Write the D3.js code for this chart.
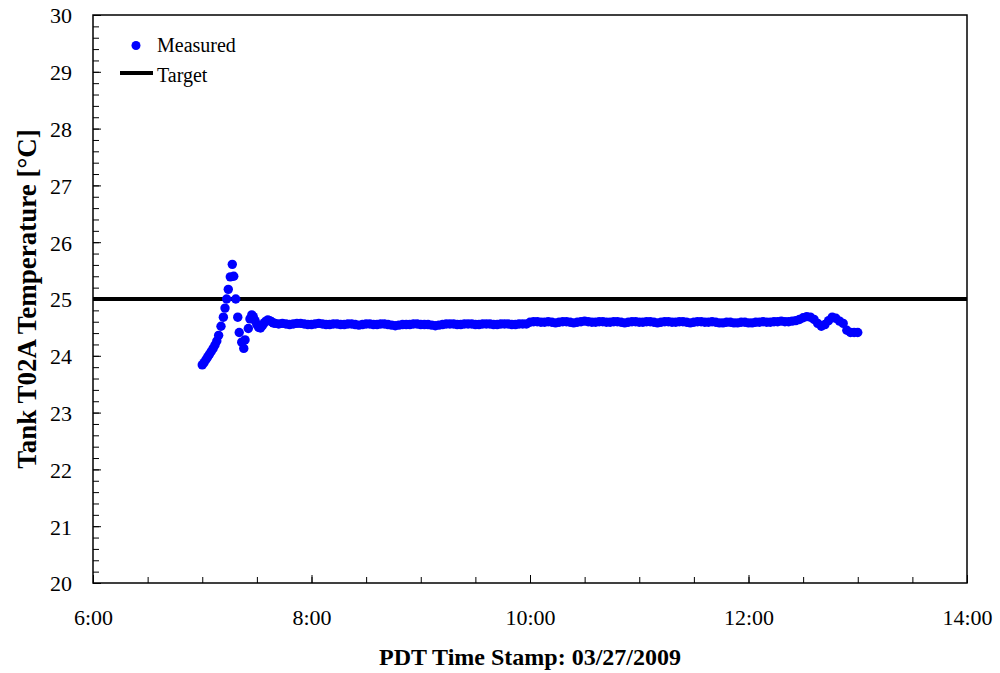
<!DOCTYPE html>
<html>
<head>
<meta charset="utf-8">
<script src="https://cdn.jsdelivr.net/npm/d3@7"></script>
<style>
  html, body { margin: 0; padding: 0; background: #fff; }
  svg text { font-family: "Liberation Serif", "Times New Roman", serif; fill: #000; }
</style>
</head>
<body>
<div id="chart"></div>
<script>

//******************************************************************************
//**  Data
//******************************************************************************
// time = minutes since midnight (PDT), temp = degrees C
var transientTimes = [420, 421, 422, 423, 424, 425, 426, 427, 428, 429,
    430.3, 431.6, 432.5, 433.4, 434.3, 435.4, 436.5, 437.3, 438.4, 439.5,
    440.3, 441.7, 442.8, 443.5, 445.3, 446.2, 447.2, 448, 449, 450,
    451, 452, 453, 454, 455, 456, 457, 458, 459, 460];
var transientTemps = [23.84, 23.88, 23.93, 23.98, 24.03, 24.08, 24.13, 24.19, 24.26, 24.36,
    24.52, 24.68, 24.84, 25.00, 25.17, 25.39, 25.61, 25.40, 25.00, 24.68,
    24.41, 24.24, 24.13, 24.28, 24.48, 24.65, 24.72, 24.69, 24.62, 24.55,
    24.50, 24.49, 24.53, 24.58, 24.61, 24.63, 24.62, 24.60, 24.58, 24.57];

// logged every 2 minutes from 7:42 on
var steadyStart = 462;
var steadyStep = 2;
var steadyTemps = [
    24.56,24.57,24.56,24.55,24.56,24.57,24.57,24.56,24.55,24.55,
    24.56,24.57,24.56,24.55,24.55,24.56,24.56,24.55,24.55,24.56,
    24.56,24.55,24.54,24.55,24.56,24.56,24.55,24.55,24.56,24.56,
    24.55,24.54,24.53,24.54,24.55,24.55,24.55,24.56,24.56,24.55,
    24.55,24.55,24.54,24.53,24.54,24.55,24.56,24.56,24.56,24.55,
    24.55,24.56,24.56,24.56,24.55,24.55,24.56,24.56,24.56,24.55,
    24.55,24.56,24.56,24.56,24.55,24.55,24.56,24.56,24.56,
    24.59,24.60,24.60,24.59,24.59,24.60,24.59,24.58,24.59,24.60,
    24.60,24.59,24.58,24.59,24.60,24.61,24.60,24.59,24.59,24.60,
    24.60,24.59,24.59,24.60,24.60,24.59,24.58,24.59,24.60,24.60,
    24.59,24.59,24.60,24.60,24.59,24.58,24.59,24.60,24.60,24.59,
    24.59,24.60,24.60,24.59,24.58,24.59,24.60,24.60,24.59,24.59,
    24.60,24.59,24.58,24.58,24.59,24.59,24.58,24.58,24.59,24.59,
    24.58,24.58,24.59,24.59,24.60,24.59,24.59,24.60,24.60,24.61,
    24.60,24.60,24.61,24.62,24.64,24.67,24.69,24.68,24.64,24.57,
    24.52,24.55,24.62,24.68,24.66,24.61,24.57,24.45,24.41,24.41,
    24.41];

var targetTemp = 25;
var xDomain = [360, 840];   // 6:00 - 14:00
var yDomain = [20, 30];
var xLabelTicks = [360, 480, 600, 720, 840];
var legendItems = ["Measured", "Target"];
var xTitle = "PDT Time Stamp: 03/27/2009";
var yTitle = "Tank T02A Temperature [\u00B0C]";


//******************************************************************************
//**  Chart
//******************************************************************************
var width = 1000, height = 673;
var margin = {top: 15, right: 33, bottom: 90, left: 93};
var plotW = width - margin.left - margin.right;
var plotH = height - margin.top - margin.bottom;

var measured = [];
transientTimes.forEach(function(t, i){
    measured.push({time: t, temp: transientTemps[i]});
});
steadyTemps.forEach(function(v, i){
    measured.push({time: steadyStart + i*steadyStep, temp: v});
});

var svg = d3.select("#chart").append("svg")
    .attr("width", width)
    .attr("height", height);

var g = svg.append("g")
    .attr("transform", "translate(" + margin.left + "," + margin.top + ")");

var x = d3.scaleLinear().domain(xDomain).range([0, plotW]);
var y = d3.scaleLinear().domain(yDomain).range([plotH, 0]);

var fmtTime = function(m){
    var h = Math.floor(m/60), mm = m % 60;
    return h + ":" + (mm < 10 ? "0" : "") + mm;
};

//** x axis: minor ticks every 30 min, pointing in
var xMinor = d3.range(xDomain[0], xDomain[1] + 1, 30);
g.append("g")
    .attr("transform", "translate(0," + plotH + ")")
    .call(d3.axisBottom(x).tickValues(xMinor)
        .tickSizeInner(-6).tickSizeOuter(0).tickFormat(""))
    .call(function(a){ a.select(".domain").remove(); })
    .selectAll("line").attr("stroke", "#000").attr("stroke-width", 1);

g.append("g")
    .attr("transform", "translate(0," + plotH + ")")
    .call(d3.axisBottom(x).tickValues(xLabelTicks)
        .tickSizeInner(-8).tickSizeOuter(0).tickPadding(0).tickFormat(fmtTime))
    .call(function(a){
        a.select(".domain").remove();
        a.attr("font-family", null);
        a.selectAll("line").attr("stroke", "#000").attr("stroke-width", 1);
        a.selectAll("text")
            .attr("y", 42).attr("dy", null)
            .style("font-family", "'Liberation Serif', serif")
            .style("font-size", "22px");
    });

//** y axis: minor ticks every 0.2
var yMinor = d3.range(0, 51).map(function(i){ return yDomain[0] + i*0.2; });
g.append("g")
    .call(d3.axisLeft(y).tickValues(yMinor)
        .tickSizeInner(-6).tickSizeOuter(0).tickFormat(""))
    .call(function(a){ a.select(".domain").remove(); })
    .selectAll("line").attr("stroke", "#000").attr("stroke-width", 1);

g.append("g")
    .call(d3.axisLeft(y).ticks(10)
        .tickSizeInner(-8).tickSizeOuter(0).tickPadding(0).tickFormat(d3.format("d")))
    .call(function(a){
        a.select(".domain").remove();
        a.attr("font-family", null);
        a.selectAll("line").attr("stroke", "#000").attr("stroke-width", 1);
        a.selectAll("text")
            .attr("x", -21).attr("dy", "0.36em")
            .style("font-family", "'Liberation Serif', serif")
            .style("font-size", "22px");
    });

//** frame
g.append("rect")
    .attr("width", plotW)
    .attr("height", plotH)
    .attr("fill", "none")
    .attr("stroke", "#000")
    .attr("stroke-width", 1.5);

//** target line
g.append("line")
    .attr("x1", 0)
    .attr("x2", plotW)
    .attr("y1", y(targetTemp))
    .attr("y2", y(targetTemp))
    .attr("stroke", "#000")
    .attr("stroke-width", 4);

//** measured points
g.selectAll("circle.pt")
    .data(measured)
    .enter()
    .append("circle")
    .attr("class", "pt")
    .attr("cx", function(d){ return x(d.time); })
    .attr("cy", function(d){ return y(d.temp); })
    .attr("r", 4.7)
    .attr("fill", "#0000ff");

//** legend
var legend = svg.append("g");
legend.append("circle")
    .attr("cx", 136).attr("cy", 45.5).attr("r", 4.5)
    .attr("fill", "#0000ff");
legend.append("text")
    .attr("x", 157).attr("y", 52)
    .style("font-size", "20px")
    .text(legendItems[0]);
legend.append("line")
    .attr("x1", 120).attr("x2", 153)
    .attr("y1", 73).attr("y2", 73)
    .attr("stroke", "#000").attr("stroke-width", 4);
legend.append("text")
    .attr("x", 157).attr("y", 81.5)
    .style("font-size", "20px")
    .text(legendItems[1]);

//** axis titles
svg.append("text")
    .attr("x", margin.left + plotW/2)
    .attr("y", 665)
    .attr("text-anchor", "middle")
    .style("font-size", "24px")
    .style("font-weight", "bold")
    .text(xTitle);

svg.append("text")
    .attr("transform", "translate(36," + (margin.top + plotH/2) + ") rotate(-90)")
    .attr("text-anchor", "middle")
    .style("font-size", "27px")
    .style("font-weight", "bold")
    .text(yTitle);

</script>
</body>
</html>
